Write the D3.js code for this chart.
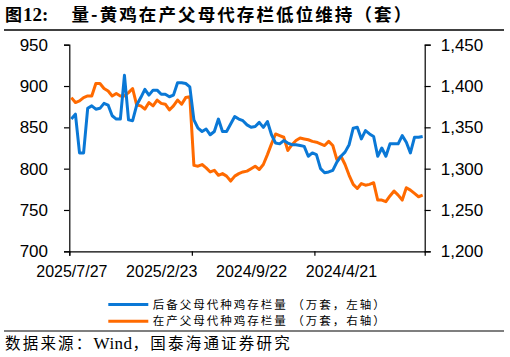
<!DOCTYPE html>
<html><head><meta charset="utf-8">
<script src="https://cdn.jsdelivr.net/npm/d3@7/dist/d3.min.js"></script>
<style>
html,body{margin:0;padding:0;background:#fff;}
svg{display:block;}
</style></head>
<body>
<svg id="chart" width="510" height="357"></svg>
<script>
const dates = ["2025/7/27","2025/7/20","2025/7/13","2025/7/6","2025/6/29","2025/6/22","2025/6/15","2025/6/8","2025/6/1","2025/5/25",
"2025/5/18","2025/5/11","2025/5/4","2025/4/27","2025/4/20","2025/4/13","2025/4/6","2025/3/30","2025/3/23","2025/3/16",
"2025/3/9","2025/3/2","2025/2/23","2025/2/16","2025/2/9","2025/2/2","2025/1/26","2025/1/19","2025/1/12","2025/1/5",
"2024/12/29","2024/12/22","2024/12/15","2024/12/8","2024/12/1","2024/11/24","2024/11/17","2024/11/10","2024/11/3","2024/10/27",
"2024/10/20","2024/10/13","2024/10/6","2024/9/29","2024/9/22","2024/9/15","2024/9/8","2024/9/1","2024/8/25","2024/8/18",
"2024/8/11","2024/8/4","2024/7/28","2024/7/21","2024/7/14","2024/7/7","2024/6/30","2024/6/23","2024/6/16","2024/6/9",
"2024/6/2","2024/5/26","2024/5/19","2024/5/12","2024/5/5","2024/4/28","2024/4/21","2024/4/14","2024/4/7","2024/3/31",
"2024/3/24","2024/3/17","2024/3/10","2024/3/3","2024/2/25","2024/2/18","2024/2/11","2024/2/4","2024/1/28","2024/1/21",
"2024/1/14","2024/1/7","2023/12/31","2023/12/24","2023/12/17","2023/12/10","2023/12/3"];

// 后备父母代种鸡存栏量（万套，左轴）
const reserveStock = [860,866,819,819,873,876,872,873,879,877,
864,860,860,913,859,858,877,886,896,889,
895,895,890,890,887,889,904,904,903,899,
859,849,845,848,841,845,860,845,845,854,
863,860,858,853,850,851,856,850,857,841,
831,830,834,831,829,829,828,827,815,819,
817,800,795,796,798,808,815,820,829,849,
850,836,846,842,839,815,825,815,830,830,
830,840,832,819,838,838,839];

// 在产父母代种鸡存栏量（万套，右轴）
const productiveStock = [1386,1380,1382,1386,1388,1388,1403,1403,1397,1394,
1388,1391,1388,1388,1392,1397,1377,1376,1372,1380,
1376,1383,1379,1378,1371,1376,1383,1378,1386,1387,
1304,1303,1305,1301,1296,1298,1292,1294,1291,1285,
1291,1294,1296,1297,1300,1303,1299,1305,1317,1330,
1342,1340,1338,1322,1329,1334,1337,1336,1335,1333,
1332,1330,1328,1333,1328,1311,1315,1305,1292,1281,
1276,1282,1280,1281,1283,1262,1262,1260,1267,1273,
1268,1262,1277,1274,1270,1266,1268];

const leftTicks = [700,750,800,850,900,950];
const rightTicks = [1200,1250,1300,1350,1400,1450];
const xTickEvery = 30;   // tick marks every 30 categories
const xLabelIdx = [0,22,44,66];

const title2 = "量-黄鸡在产父母代存栏低位维持（套）";
const legendNames = ["后备父母代种鸡存栏量 （万套，左轴）","在产父母代种鸡存栏量 （万套，右轴）"];
const colors = ["#0a78d6","#ff6a00"];

const svg = d3.select("#chart");
const L = 69.3, R = 424.7, T = 44.7, B = 251.3;
const N = dates.length;

const xIdx = d3.scaleLinear().domain([0, N]).range([L, R]);
const xc = i => xIdx(i + 0.5);
const yL = d3.scaleLinear().domain([700, 950]).range([B, T]);
const yR = d3.scaleLinear().domain([1200, 1450]).range([B, T]);

const numFont = "'Liberation Sans', Arial, sans-serif";
const serifFont = "'Liberation Serif', 'Times New Roman', serif";
const cjkFont = "'Noto Sans CJK SC', sans-serif";

// title
svg.append("text").attr("x", 5).attr("y", 20.5)
  .style("font-family", cjkFont).style("font-weight", "bold").style("font-size", "17px")
  .text("图");
svg.append("text").attr("x", 23).attr("y", 20.5)
  .style("font-family", serifFont).style("font-weight", "bold").style("font-size", "19px")
  .text("12:");
svg.append("text").attr("x", 71.5).attr("y", 20.5)
  .style("font-family", cjkFont).style("font-weight", "bold").style("font-size", "17.5px")
  .style("letter-spacing", "2.1px")
  .text(title2);
svg.append("line").attr("x1", 4).attr("x2", 504).attr("y1", 30).attr("y2", 30)
  .attr("stroke", "#000").attr("stroke-width", 1.3);

// axes
const gL = svg.append("g").attr("transform", `translate(${L},0)`)
  .call(d3.axisLeft(yL).tickValues(leftTicks).tickSize(5.3).tickPadding(16).tickFormat(d3.format("d")));
const gR = svg.append("g").attr("transform", `translate(${R},0)`)
  .call(d3.axisRight(yR).tickValues(rightTicks).tickSize(6).tickPadding(10).tickFormat(d3.format(",")));
const gX = svg.append("g").attr("transform", `translate(0,${B})`)
  .call(d3.axisBottom(xIdx).tickValues(d3.range(0, N, xTickEvery)).tickSize(4.5).tickFormat(""));
const gXL = svg.append("g").attr("transform", `translate(0,${B})`)
  .call(d3.axisBottom(xIdx).tickValues(xLabelIdx.map(i => i + 0.5)).tickSize(0).tickPadding(14)
    .tickFormat(v => dates[Math.round(v - 0.5)]));
gXL.select(".domain").remove();

[gL, gR, gX, gXL].forEach(g => {
  g.selectAll(".domain").attr("stroke", "#000").attr("stroke-width", 1.2);
  g.selectAll(".tick line").attr("stroke", "#000").attr("stroke-width", 1.2);
  g.selectAll("text").style("font-family", numFont).attr("fill", "#000");
});
gL.selectAll("text").style("font-size", "17px");
gR.selectAll("text").style("font-size", "17px");
gXL.selectAll("text").style("font-size", "16px");

// lines
const lineL = d3.line().x((d, i) => xc(i)).y(d => yL(d));
const lineR = d3.line().x((d, i) => xc(i)).y(d => yR(d));
svg.append("path").datum(productiveStock).attr("d", lineR)
  .attr("fill", "none").attr("stroke", colors[1]).attr("stroke-width", 3).attr("stroke-linejoin", "round");
svg.append("path").datum(reserveStock).attr("d", lineL)
  .attr("fill", "none").attr("stroke", colors[0]).attr("stroke-width", 3).attr("stroke-linejoin", "round");

// legend
const lg = svg.append("g");
legendNames.forEach((name, k) => {
  const cy = 304.4 + k * 16.8;
  lg.append("line").attr("x1", 108.3).attr("x2", 148.3).attr("y1", cy).attr("y2", cy)
    .attr("stroke", colors[k]).attr("stroke-width", 3);
  lg.append("text").attr("x", 152.7).attr("y", cy + 4.2)
    .style("font-family", cjkFont).style("font-size", "11.5px").style("letter-spacing", "2px")
    .attr("fill", "#000").text(name);
});

// source
svg.append("line").attr("x1", 4).attr("x2", 504).attr("y1", 331).attr("y2", 331)
  .attr("stroke", "#000").attr("stroke-width", 1.2);
const src = svg.append("text").attr("x", 5).attr("y", 348.5)
  .style("font-family", cjkFont).style("font-size", "15.5px").style("letter-spacing", "2.2px")
  .attr("fill", "#000");
src.append("tspan").text("数据来源：");
src.append("tspan").style("font-family", serifFont).style("font-size", "17px").style("letter-spacing", "0.5px").text("Wind");
src.append("tspan").text("，国泰海通证券研究");
</script>
</body></html>
